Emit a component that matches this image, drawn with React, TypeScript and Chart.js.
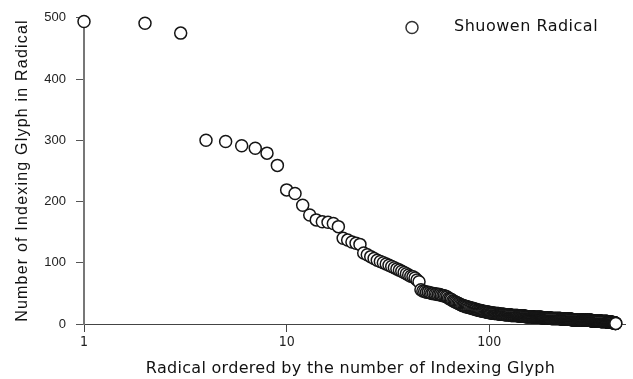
import React, { useEffect, useRef } from "react";
import { Chart, registerables } from "chart.js";

Chart.register(...registerables);

const seriesLabel = "Shuowen Radical";
const xTitle = "Radical ordered by the number of Indexing Glyph";
const yTitle = "Number of Indexing Glyph in Radical";
const xTickValues = [1, 10, 100];
const yTickValues = [0, 100, 200, 300, 400, 500];

// glyph counts of the radicals ranked 1..100
const headGlyphCounts = [
  494, 491, 475, 300, 298, 291, 287, 279, 259, 219,
  213, 194, 178, 170, 167, 166, 164, 159, 140, 137,
  134, 132, 130, 116, 113, 110, 107, 104, 102, 100,
  98, 96, 94, 92, 90, 88, 86, 84, 82, 80,
  78, 77, 75, 72, 69, 56, 54, 53, 52, 52,
  51, 50, 50, 49, 49, 48, 48, 47, 46, 46,
  45, 44, 42, 41, 40, 38, 37, 36, 35, 34,
  33, 32, 31, 30, 30, 29, 28, 28, 27, 27,
  26, 26, 25, 25, 24, 24, 23, 23, 22, 22,
  22, 21, 21, 21, 20, 20, 20, 19, 19, 19,
];

// remaining radicals (ranks 101..421): glyph count and how many radicals have it
const tailGlyphCounts = [18, 17, 16, 15, 14, 13, 12, 11, 10, 9, 8, 7, 6, 5, 4, 3, 2, 1];
const tailRadicalsPerCount = [5, 6, 7, 9, 11, 12, 14, 17, 20, 24, 28, 32, 34, 34, 30, 22, 12, 4];

function buildPoints() {
  const pts: { x: number; y: number }[] = [];
  let rank = 1;
  headGlyphCounts.forEach((v) => pts.push({ x: rank++, y: v }));
  tailGlyphCounts.forEach((v, i) => {
    for (let k = 0; k < tailRadicalsPerCount[i]; k++) pts.push({ x: rank++, y: v });
  });
  return pts;
}

const POINT_RADIUS = 6;
const POINT_BORDER = 1.5;
const POINT_STROKE = "#151515";

const overlayPlugin = {
  id: "overlayText",
  afterDraw(chart: any) {
    const ctx = chart.ctx as CanvasRenderingContext2D;
    // y title
    ctx.save();
    ctx.fillStyle = "#111";
    ctx.font = '16px "Liberation Sans", Arial, sans-serif';
    (ctx as any).letterSpacing = "1.2px";
    ctx.translate(26.7, 170.5);
    ctx.rotate(-Math.PI / 2);
    ctx.textAlign = "center";
    ctx.textBaseline = "alphabetic";
    ctx.fillText(yTitle, 0, 0);
    ctx.restore();

    // x title
    ctx.save();
    ctx.fillStyle = "#111";
    ctx.font = '16px "DejaVu Sans", sans-serif';
    (ctx as any).letterSpacing = "0.3px";
    ctx.textAlign = "center";
    ctx.textBaseline = "alphabetic";
    ctx.fillText(xTitle, 350.5, 373.3);
    ctx.restore();

    // legend
    ctx.save();
    ctx.beginPath();
    ctx.arc(412, 27.5, POINT_RADIUS, 0, Math.PI * 2);
    ctx.fillStyle = "#fff";
    ctx.fill();
    ctx.lineWidth = POINT_BORDER;
    ctx.strokeStyle = "#333";
    ctx.stroke();
    ctx.fillStyle = "#111";
    ctx.font = '16px "DejaVu Sans", sans-serif';
    (ctx as any).letterSpacing = "0.5px";
    ctx.textAlign = "left";
    ctx.textBaseline = "middle";
    ctx.fillText(seriesLabel, 454, 27);
    ctx.restore();
  },
};

export default function App() {
  const canvasRef = useRef<HTMLCanvasElement | null>(null);

  useEffect(() => {
    const canvas = canvasRef.current;
    if (!canvas) return;
    const chart = new Chart(canvas, {
      type: "scatter",
      data: {
        datasets: [
          {
            label: seriesLabel,
            data: buildPoints(),
            pointRadius: POINT_RADIUS,
            pointHoverRadius: POINT_RADIUS,
            pointBorderWidth: POINT_BORDER,
            pointBackgroundColor: "#ffffff",
            pointBorderColor: POINT_STROKE,
            showLine: false,
            clip: false as any,
          },
        ],
      },
      options: {
        animation: false,
        responsive: false,
        devicePixelRatio: 1,
        layout: { padding: { top: 17, right: 6, left: 0, bottom: 0 } },
        plugins: {
          legend: { display: false },
          tooltip: { enabled: false },
        },
        scales: {
          x: {
            type: "logarithmic",
            min: 1,
            max: 470,
            afterBuildTicks: (s: any) => {
              s.ticks = xTickValues.map((v) => ({ value: v }));
            },
            afterFit: (s: any) => {
              s.height = 55;
            },
            grid: {
              display: true,
              drawOnChartArea: false,
              drawTicks: true,
              tickLength: 8,
              color: "#444",
              lineWidth: 1,
            },
            border: { display: true, color: "#444", width: 1 },
            ticks: {
              callback: (v: any) => String(v),
              font: { family: '"DejaVu Sans Condensed", "DejaVu Sans", sans-serif', size: 14 },
              color: "#222",
              padding: 2,
              maxRotation: 0,
              autoSkip: false,
            },
          },
          y: {
            type: "linear",
            min: 0,
            max: 500,
            afterBuildTicks: (s: any) => {
              s.ticks = yTickValues.map((v) => ({ value: v }));
            },
            afterFit: (s: any) => {
              s.width = 84;
            },
            grid: {
              display: true,
              drawOnChartArea: false,
              drawTicks: true,
              tickLength: 8,
              color: "#555",
              lineWidth: 1,
            },
            border: { display: true, color: "#777", width: 2 },
            ticks: {
              callback: (v: any) => String(v),
              font: { family: '"Liberation Sans Narrow", "Liberation Sans", Arial, sans-serif', size: 13 },
              color: "#222",
              padding: 10,
            },
          },
        },
      },
      plugins: [overlayPlugin],
    });
    return () => chart.destroy();
  }, []);

  return (
    <div style={{ position: "absolute", left: 0, top: 0, width: 633, height: 379, background: "#fff" }}>
      <canvas ref={canvasRef} width={633} height={379} style={{ width: 633, height: 379 }} />
    </div>
  );
}
